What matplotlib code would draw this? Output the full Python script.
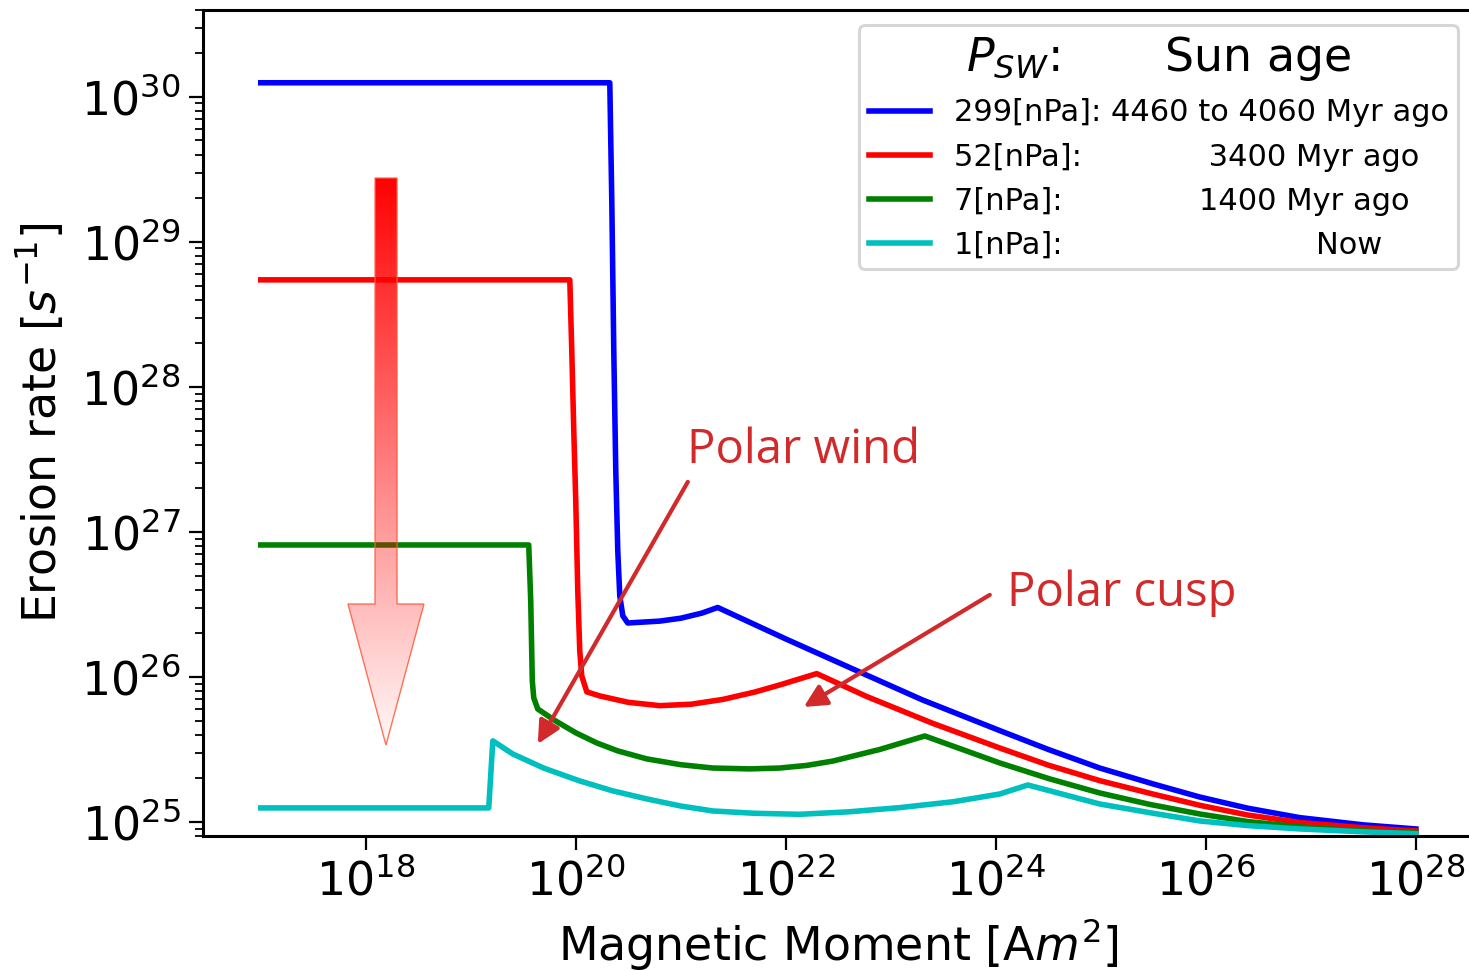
import numpy as np
import matplotlib.pyplot as plt
from matplotlib.patches import Polygon

# log10 of magnetic moment [Am^2] / erosion rate [s^-1] along each curve
blue_m = [17.0, 20.324, 20.343, 20.362, 20.381, 20.40, 20.419, 20.448, 20.495,
          20.8, 21.0, 21.2, 21.352, 22.0, 22.676, 23.3, 24.038, 24.5, 24.99,
          25.5, 25.943, 26.4, 26.895, 27.5, 28.0]
blue_r = [30.097, 30.097, 29.283, 28.248, 27.421, 26.869, 26.559, 26.421, 26.372,
          26.385, 26.405, 26.44, 26.479, 26.262, 26.043, 25.842, 25.630, 25.500, 25.372,
          25.262, 25.172, 25.095, 25.030, 24.980, 24.952]

red_m = [17.0, 19.943, 19.962, 19.981, 20.0, 20.019, 20.038, 20.057, 20.105,
         20.229, 20.5, 20.8, 21.1, 21.4, 21.7, 21.943, 22.295, 22.771, 23.4, 24.038,
         24.5, 24.99, 25.5, 25.943, 26.4, 26.895, 27.5, 28.0]
red_r = [28.738, 28.738, 28.248, 27.697, 27.21, 26.593, 26.179, 26.007, 25.897,
         25.869, 25.825, 25.802, 25.812, 25.845, 25.895, 25.945, 26.023, 25.865, 25.680,
         25.510, 25.392, 25.285, 25.192, 25.115, 25.048, 24.996, 24.960, 24.938]

green_m = [17.0, 19.552, 19.571, 19.586, 19.60, 19.638, 19.8, 20.0, 20.2, 20.4,
           20.676, 21.0, 21.305, 21.657, 21.943, 22.2, 22.448, 22.895, 23.324, 24.038,
           24.514, 24.99, 25.467, 25.943, 26.4, 26.895, 27.4, 28.0]
green_r = [26.910, 26.910, 26.524, 25.972, 25.855, 25.779, 25.700, 25.615, 25.545, 25.490,
           25.435, 25.395, 25.372, 25.366, 25.372, 25.390, 25.420, 25.500, 25.593, 25.407,
           25.297, 25.200, 25.121, 25.055, 25.003, 24.966, 24.941, 24.924]

cyan_m = [17.0, 19.171, 19.21, 19.40, 19.70, 20.038, 20.35, 20.676, 21.0, 21.305,
          21.7, 22.133, 22.6, 23.086, 23.6, 24.038, 24.305, 24.99, 25.5, 25.943,
          26.4, 26.895, 27.5, 28.0]
cyan_r = [25.097, 25.097, 25.559, 25.469, 25.37, 25.283, 25.215, 25.159, 25.11, 25.076,
          25.06, 25.053, 25.07, 25.099, 25.14, 25.193, 25.255, 25.124, 25.06, 25.007,
          24.975, 24.952, 24.932, 24.919]

labels = ["299[nPa]: 4460 to 4060 Myr ago",
          "52[nPa]:" + " " * 13 + "3400 Myr ago",
          "7[nPa]:" + " " * 14 + "1400 Myr ago",
          "1[nPa]:" + " " * 26 + "Now"]
colors = ["b", "r", "g", "c"]
curves = [(blue_m, blue_r), (red_m, red_r), (green_m, green_r), (cyan_m, cyan_r)]

ANN_COLOR = "#d22a2a"

fig = plt.figure(figsize=(14.69, 9.71), dpi=100)
ax = fig.add_axes([0.1382, 0.1390, 0.8649, 0.8512])

for (m, r), c, lab in zip(curves, colors, labels):
    ax.plot(10 ** np.array(m), 10 ** np.array(r), color=c, lw=4.0, label=lab)

# big fading arrow: rate goes down as the solar wind weakens
shaft_l, shaft_r, head_l, head_r, tip_x = 0.1354, 0.1527, 0.1141, 0.1739, 0.1440
top_y, base_y, tip_y = 0.7961, 0.2807, 0.1101
verts = [(shaft_l, top_y), (shaft_r, top_y), (shaft_r, base_y), (head_r, base_y),
         (tip_x, tip_y), (head_l, base_y), (shaft_l, base_y)]
arrow = Polygon(verts, closed=True, transform=ax.transAxes, facecolor="none",
                edgecolor="#ff5a3c", lw=1.0, alpha=0.85, zorder=5)
ax.add_patch(arrow)
grad = np.zeros((256, 1, 4))
grad[..., 0] = 1.0
grad[:, 0, 3] = np.linspace(1.0, 0.03, 256)
im = ax.imshow(grad, extent=[head_l, head_r, tip_y, top_y], transform=ax.transAxes,
               aspect="auto", origin="upper", zorder=4, interpolation="bilinear")
im.set_clip_path(arrow)

# annotations
arrow_kw = dict(arrowstyle="-|>", color=ANN_COLOR, lw=3.0, mutation_scale=34,
                shrinkA=0, shrinkB=0)
ax.text(10 ** 21.057, 10 ** 27.476, "Polar wind", fontsize=34, family="Open Sans",
        color=ANN_COLOR, va="baseline")
ax.annotate("", xy=(10 ** 19.638, 10 ** 25.538), xytext=(10 ** 21.067, 10 ** 27.345),
            arrowprops=arrow_kw)
ax.text(10 ** 24.105, 10 ** 26.490, "Polar cusp", fontsize=34, family="Open Sans",
        color=ANN_COLOR, va="baseline")
ax.annotate("", xy=(10 ** 22.171, 10 ** 25.793), xytext=(10 ** 23.943, 10 ** 26.566),
            arrowprops=arrow_kw)

ax.set_xscale("log")
ax.set_yscale("log")
ax.set_xlim(10 ** 16.45, 10 ** 28.55)
ax.set_ylim(8e24, 4e30)
ax.set_xticks([10.0 ** k for k in range(18, 29, 2)])

ax.set_xlabel(r"Magnetic Moment [A$m^2$]", fontsize=33, labelpad=8.5)
ax.set_ylabel(r"Erosion rate [$s^{-1}$]", fontsize=33, labelpad=10)
ax.tick_params(which="major", labelsize=33, length=10, width=1.6, pad=6)
ax.tick_params(which="minor", length=5.8, width=1.3)
for sp in ax.spines.values():
    sp.set_linewidth(2.2)

leg = ax.legend(loc="upper right", title=r"$P_{SW}$:       Sun age", fontsize=22,
                title_fontsize=33, handlelength=2.0, handletextpad=0.8,
                labelspacing=0.5, borderpad=0.3, framealpha=0.8, edgecolor="0.8")
leg.get_frame().set_linewidth(2.2)
for h in leg.get_lines():
    h.set_linewidth(4.0)

fig.savefig("out.png", dpi=100)
